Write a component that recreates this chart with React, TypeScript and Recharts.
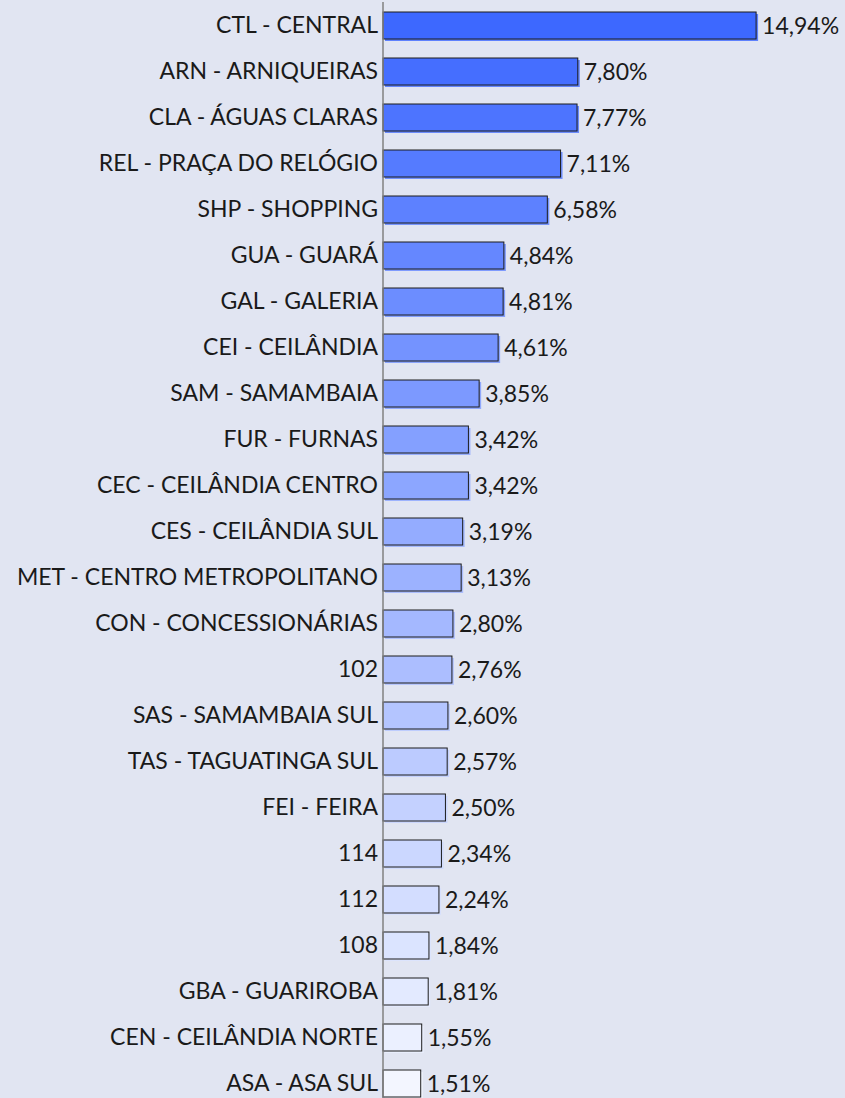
import React from 'react';
import { BarChart, Bar, XAxis, YAxis, Cell, LabelList } from 'recharts';

const categories = [
  'CTL - CENTRAL',
  'ARN - ARNIQUEIRAS',
  'CLA - ÁGUAS CLARAS',
  'REL - PRAÇA DO RELÓGIO',
  'SHP - SHOPPING',
  'GUA - GUARÁ',
  'GAL - GALERIA',
  'CEI - CEILÂNDIA',
  'SAM - SAMAMBAIA',
  'FUR - FURNAS',
  'CEC - CEILÂNDIA CENTRO',
  'CES - CEILÂNDIA SUL',
  'MET - CENTRO METROPOLITANO',
  'CON - CONCESSIONÁRIAS',
  '102',
  'SAS - SAMAMBAIA SUL',
  'TAS - TAGUATINGA SUL',
  'FEI - FEIRA',
  '114',
  '112',
  '108',
  'GBA - GUARIROBA',
  'CEN - CEILÂNDIA NORTE',
  'ASA - ASA SUL',
];

const shares = [
  14.94, 7.8, 7.77, 7.11, 6.58, 4.84, 4.81, 4.61, 3.85, 3.42, 3.42, 3.19,
  3.13, 2.8, 2.76, 2.6, 2.57, 2.5, 2.34, 2.24, 1.84, 1.81, 1.55, 1.51,
];

const barColors = [
  '#3d68ff', '#456eff', '#4d74ff', '#557bff', '#5d81ff', '#6587ff',
  '#6c8dff', '#7493ff', '#7c99ff', '#84a0ff', '#8ca6ff', '#94acff',
  '#9cb2ff', '#a4b8ff', '#acbeff', '#b4c5ff', '#bccbff', '#c4d1ff',
  '#cbd7ff', '#d3ddff', '#dbe4ff', '#e3eaff', '#ebf0ff', '#f3f6ff',
];

const data = categories.map((name, i) => ({ name, value: shares[i] }));

const FONT = 'Lato, "Open Sans", sans-serif';

const ShadowBar = (props: any) => {
  const { x, y, width, height, fill } = props;
  if (width == null || height == null) return null;
  return (
    <g>
      <rect x={x + 2} y={y + 2} width={width} height={height} fill={fill} opacity={0.8} />
      <rect x={x} y={y} width={width} height={height} fill={fill} stroke="#1c1c1c" strokeWidth={1} />
    </g>
  );
};

const fmt = (v: any) => `${Number(v).toFixed(2).replace('.', ',')}%`;

export default function App() {
  return (
    <div
      style={{
        position: 'absolute',
        left: 0,
        top: 0,
        width: 845,
        height: 1098,
        overflow: 'hidden',
        background: '#e1e5f2',
        fontFamily: FONT,
      }}
    >
      <BarChart
        width={845}
        height={1106}
        data={data}
        layout="vertical"
        margin={{ top: 2, right: 0, bottom: 0, left: 0 }}
      >
        <XAxis type="number" hide domain={[0, 18.5]} />
        <YAxis
          type="category"
          dataKey="name"
          width={383}
          tickLine={false}
          tickSize={0}
          tickMargin={5}
          axisLine={{ stroke: '#808080', strokeWidth: 1.5 }}
          interval={0}
          tick={{ fill: '#1a1a1a', fontSize: 23, fontFamily: FONT }}
        />
        <Bar dataKey="value" barSize={27} isAnimationActive={false} shape={<ShadowBar />}>
          {data.map((d, i) => (
            <Cell key={d.name} fill={barColors[i]} />
          ))}
          <LabelList
            dataKey="value"
            position="right"
            offset={6}
            formatter={fmt}
            style={{ fill: '#1a1a1a', fontSize: 23, fontFamily: FONT }}
          />
        </Bar>
      </BarChart>
    </div>
  );
}
